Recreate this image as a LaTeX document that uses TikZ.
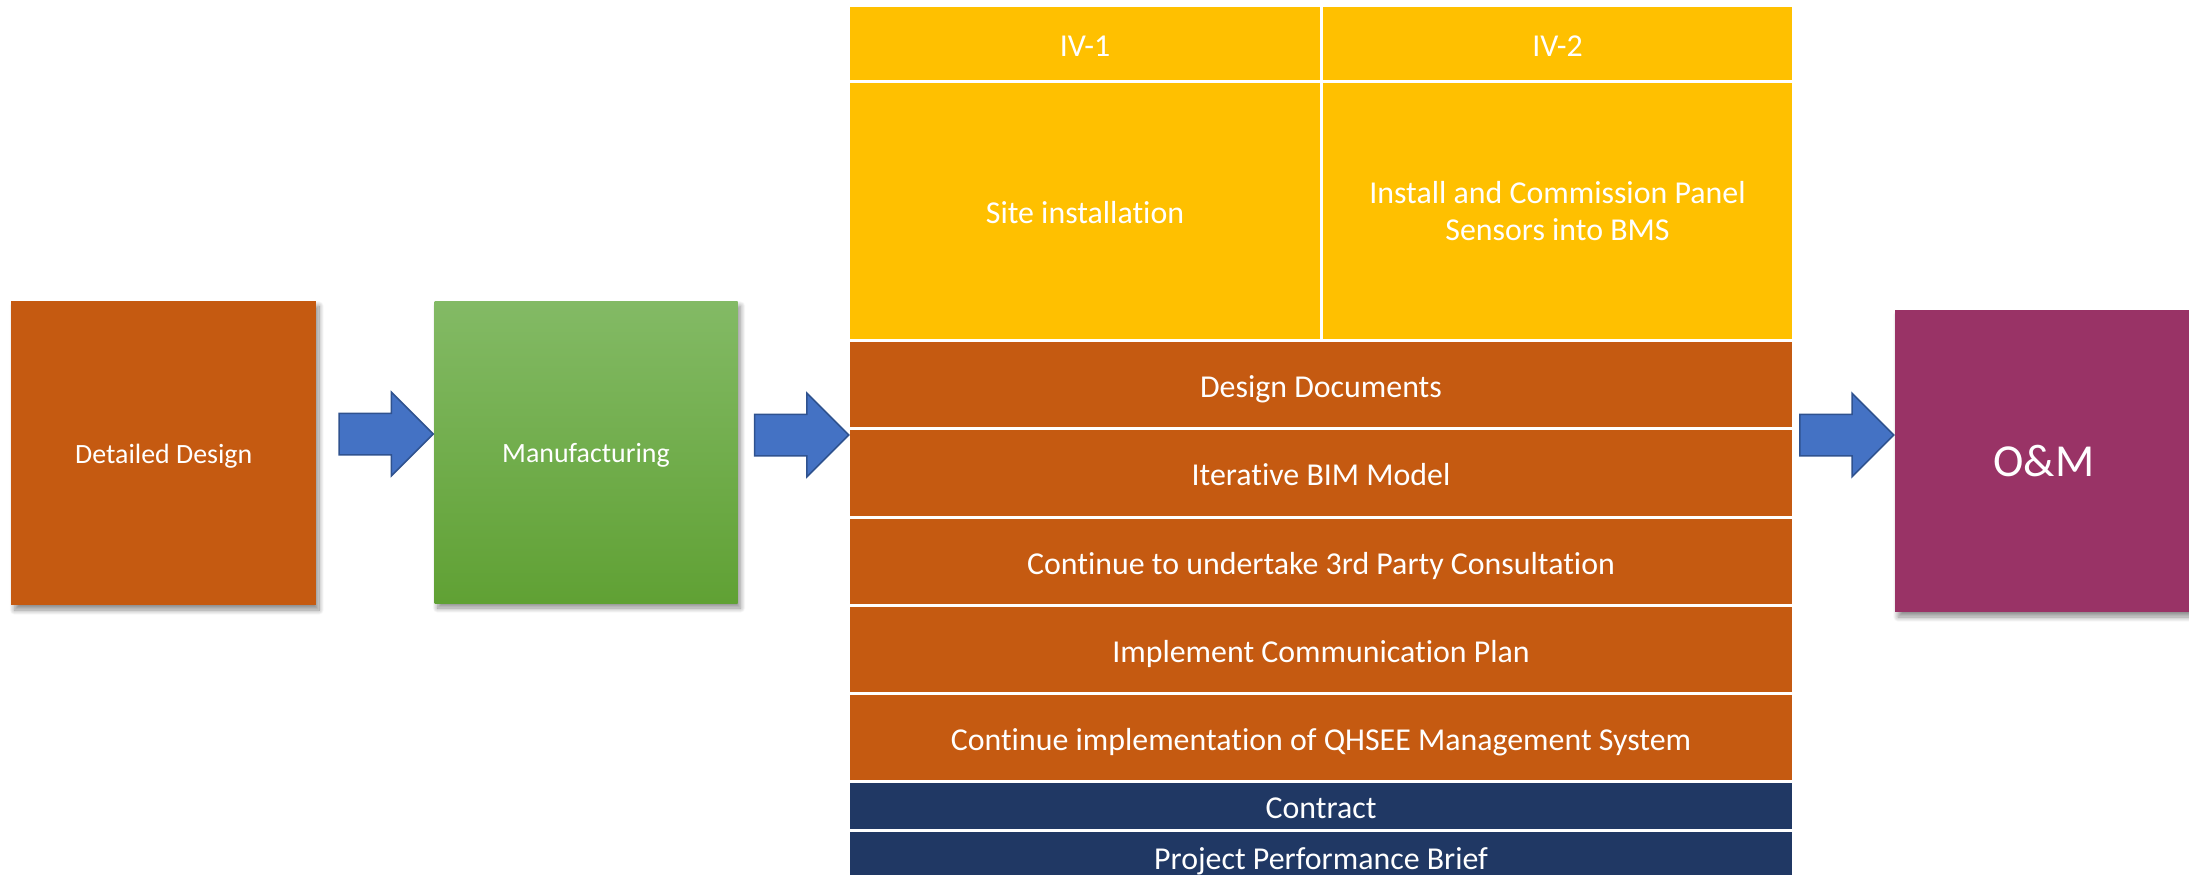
\documentclass[tikz,border=0pt]{standalone}
\usepackage{fontspec}
\setmainfont{Carlito}[Ligatures=NoCommon]
\usetikzlibrary{shapes.arrows,shadows.blur}

\definecolor{rust}{HTML}{C55A11}
\definecolor{amber}{HTML}{FFC000}
\definecolor{navy}{HTML}{203864}
\definecolor{plum}{HTML}{993366}
\definecolor{arrowblue}{HTML}{4472C4}
\definecolor{arrowedge}{HTML}{2F528F}
\definecolor{greentop}{RGB}{131,186,101}
\definecolor{greenbot}{RGB}{96,161,52}

\begin{document}
\begin{tikzpicture}[x=1bp,y=-1bp,
  stage/.style={rectangle, inner sep=0pt, text=white, align=center,
    font=\fontsize{28}{34}\selectfont, text height=20.7bp, text depth=0pt,
    blur shadow={shadow xshift=3bp, shadow yshift=-5bp,
      shadow blur radius=5bp, shadow blur steps=12, shadow opacity=45}},
  cell/.style={rectangle, inner sep=0pt, text=white, align=center,
    font=\fontsize{32}{38}\selectfont, text height=25bp, text depth=0pt},
  flow/.style={single arrow, draw=arrowedge, fill=arrowblue, line width=1.5bp,
    inner xsep=0pt, inner ysep=20bp, minimum height=94bp,
    single arrow head extend=21bp, single arrow tip angle=90, anchor=tip}]

\useasboundingbox (0,0) rectangle (2189,874);
\clip (0,0) rectangle (2189,874);

% stage boxes
\node[stage, fill=rust, minimum width=304.5bp, minimum height=304bp]
  (design) at (163.75,453) {Detailed Design};
\node[stage, top color=greentop, bottom color=greenbot,
  minimum width=303bp, minimum height=302bp]
  (mfg) at (586,452) {Manufacturing};
\node[stage, fill=plum, minimum width=298bp, minimum height=302bp,
  font=\fontsize{46}{54}\selectfont, text height=31.4bp]
  (om) at (2044,461) {O\&M};

% implementation table: two yellow columns
\node[cell, fill=amber, minimum width=470bp, minimum height=73bp]
  (iv1) at (1085,43.5) {IV-1};
\node[cell, fill=amber, minimum width=469bp, minimum height=73bp]
  (iv2) at (1557.5,43.5) {IV-2};
\node[cell, fill=amber, minimum width=470bp, minimum height=256bp]
  (site) at (1085,211) {Site installation};
\node[cell, fill=amber, minimum width=469bp, minimum height=256bp,
  text height=, text depth=]
  (install) at (1557.5,211) {Install and Commission Panel\\Sensors into BMS};

% implementation table: full-width rows
\node[cell, fill=rust, minimum width=942bp, minimum height=85bp]
  (docs) at (1321,384.5) {Design Documents};
\node[cell, fill=rust, minimum width=942bp, minimum height=86bp]
  (bim) at (1321,473) {Iterative BIM Model};
\node[cell, fill=rust, minimum width=942bp, minimum height=85bp]
  (consult) at (1321,561.5) {Continue to undertake 3rd Party Consultation};
\node[cell, fill=rust, minimum width=942bp, minimum height=85bp]
  (comm) at (1321,649.5) {Implement Communication Plan};
\node[cell, fill=rust, minimum width=942bp, minimum height=85bp]
  (qhsee) at (1321,737.5) {Continue implementation of QHSEE Management System};
\node[cell, fill=navy, minimum width=942bp, minimum height=46bp]
  (contract) at (1321,806) {Contract};
\node[cell, fill=navy, minimum width=942bp, minimum height=50bp]
  (brief) at (1321,857) {Project Performance Brief};

% block arrows between the stages
\node[flow] (a1) at (mfg.west |- 0,434) {};
\node[flow] (a2) at (docs.west |- 0,435) {};
\node[flow] (a3) at (om.west |- 0,435) {};

\end{tikzpicture}
\end{document}
